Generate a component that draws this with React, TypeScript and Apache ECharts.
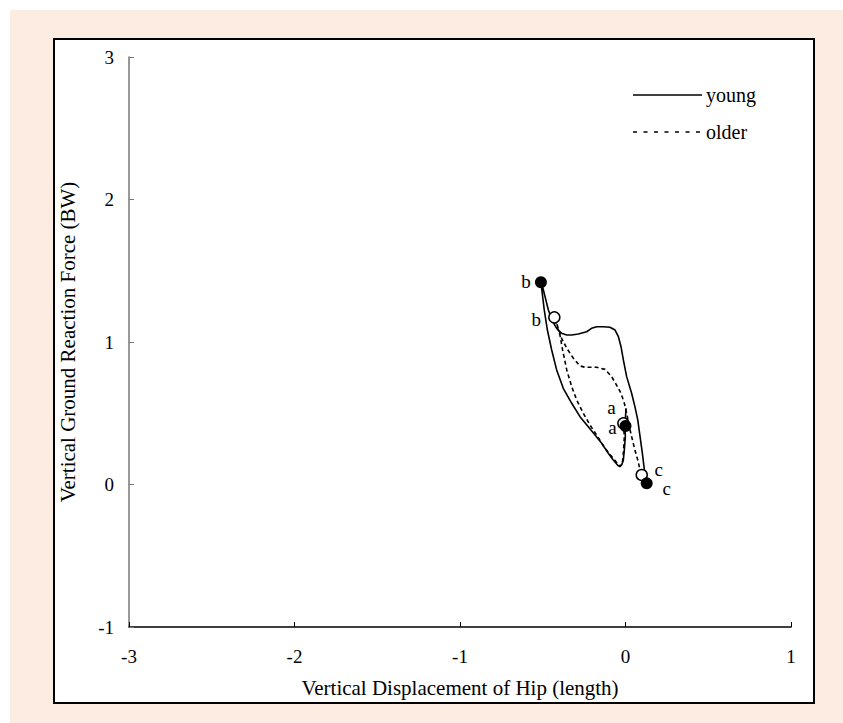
import React, { useEffect, useRef } from "react";
import * as echarts from "echarts";

// Axis ticks
const xTicks = [-3, -2, -1, 0, 1];
const yTicks = [-1, 0, 1, 2, 3];

// Young (solid) trajectory: [hip displacement, GRF]
const youngX = [0.003, -0.003, -0.001, -0.007, -0.013, -0.023, -0.043, -0.074, -0.104, -0.144, -0.184, -0.225, -0.275, -0.325, -0.376, -0.416, -0.446, -0.472, -0.491, -0.503, -0.511, -0.501, -0.486, -0.466, -0.44, -0.416, -0.386, -0.355, -0.325, -0.285, -0.235, -0.205, -0.174, -0.134, -0.094, -0.063, -0.043, -0.027, -0.013, 0.007, 0.037, 0.057, 0.074, 0.088, 0.102, 0.114, 0.128];
const youngY = [0.535, 0.411, 0.336, 0.242, 0.172, 0.137, 0.13, 0.172, 0.219, 0.289, 0.347, 0.406, 0.476, 0.57, 0.675, 0.804, 0.944, 1.084, 1.225, 1.342, 1.419, 1.388, 1.318, 1.225, 1.143, 1.096, 1.061, 1.049, 1.049, 1.056, 1.072, 1.096, 1.107, 1.107, 1.103, 1.084, 1.037, 0.967, 0.874, 0.757, 0.64, 0.546, 0.453, 0.336, 0.219, 0.102, 0.008];

// Older (dotted) trajectory
const olderX = [-0.013, -0.007, -0.013, -0.019, -0.033, -0.074, -0.124, -0.174, -0.215, -0.255, -0.295, -0.325, -0.355, -0.38, -0.396, -0.416, -0.43, -0.422, -0.406, -0.386, -0.355, -0.315, -0.275, -0.245, -0.174, -0.124, -0.084, -0.054, -0.027, -0.007, 0.007, 0.023, 0.037, 0.057, 0.074, 0.088, 0.098];
const olderY = [0.429, 0.336, 0.219, 0.149, 0.125, 0.184, 0.254, 0.347, 0.418, 0.5, 0.593, 0.686, 0.804, 0.944, 1.049, 1.119, 1.173, 1.149, 1.096, 1.026, 0.956, 0.886, 0.832, 0.823, 0.823, 0.808, 0.757, 0.698, 0.64, 0.57, 0.5, 0.406, 0.336, 0.242, 0.172, 0.102, 0.067];

// Event points a, b, c
const eventNames = ["a", "b", "c"];
const youngEventX = [0.0, -0.511, 0.128];
const youngEventY = [0.411, 1.419, 0.008];
const olderEventX = [-0.013, -0.43, 0.098];
const olderEventY = [0.429, 1.173, 0.067];

const seriesNames = ["young", "older"];

const FONT = "Liberation Serif";

// label offsets (styling)
const youngLabelOffsets = [[-13, 2], [-15, -1], [20, 5]];
const olderLabelOffsets = [[-12, -16], [-18, 2], [17, -5]];

export default function App() {
  const ref = useRef<HTMLDivElement>(null);
  useEffect(() => {
    if (!ref.current) return;
    const chart = echarts.init(ref.current, undefined, { renderer: "svg" });
    const youngData = youngX.map((x, i) => [x, youngY[i]]);
    const olderData = olderX.map((x, i) => [x, olderY[i]]);
    const mkEvents = (xs: number[], ys: number[], offs: number[][]) =>
      xs.map((x, i) => ({
        value: [x, ys[i]],
        name: eventNames[i],
        label: {
          show: true,
          position: "inside",
          offset: offs[i],
          formatter: eventNames[i],
          color: "#000",
          textBorderWidth: 0,
          textBorderColor: "transparent",
          fontFamily: FONT,
          fontSize: 19,
        },
      }));
    const tickLabel = {
      show: true,
      fontFamily: FONT,
      fontSize: 19,
      color: "#000",
      formatter: "{t|{value}}",
      rich: { t: { fontFamily: FONT, fontSize: 19, color: "#000" } },
    };
    chart.setOption({
      animation: false,
      backgroundColor: "transparent",
      textStyle: { fontFamily: FONT, color: "#000", fontSize: 19 },
      grid: { left: 129, right: 52, top: 57, bottom: 96, containLabel: false },
      xAxis: {
        type: "value",
        min: xTicks[0],
        max: xTicks[xTicks.length - 1],
        interval: 1,
        name: "Vertical Displacement of Hip (length)",
        nameLocation: "middle",
        nameGap: 50,
        nameTextStyle: { fontFamily: FONT, fontSize: 21, color: "#000" },
        axisLine: { show: true, onZero: false, lineStyle: { color: "#000", width: 1.5 } },
        axisTick: { show: true, inside: true, length: 5, lineStyle: { color: "#000", width: 1 } },
        axisLabel: { ...tickLabel, margin: 20 },
        splitLine: { show: false },
      },
      yAxis: {
        type: "value",
        min: yTicks[0],
        max: yTicks[yTicks.length - 1],
        interval: 1,
        name: "Vertical Ground Reaction Force (BW)",
        nameLocation: "middle",
        nameGap: 51,
        nameTextStyle: { fontFamily: FONT, fontSize: 21, color: "#000" },
        axisLine: { show: true, onZero: false, lineStyle: { color: "#777", width: 1.5 } },
        axisTick: { show: true, inside: true, length: 5, lineStyle: { color: "#777", width: 1 } },
        axisLabel: { ...tickLabel, margin: 15 },
        splitLine: { show: false },
      },
      series: [
        {
          name: seriesNames[0],
          type: "line",
          data: youngData,
          showSymbol: false,
          symbol: "none",
          lineStyle: { color: "#000", width: 1.6, type: "solid" },
          z: 3,
        },
        {
          name: seriesNames[1],
          type: "line",
          data: olderData,
          showSymbol: false,
          symbol: "none",
          lineStyle: { color: "#000", width: 1.6, type: [4, 3] },
          z: 3,
        },
        {
          name: "older events",
          type: "scatter",
          data: mkEvents(olderEventX, olderEventY, olderLabelOffsets),
          symbol: "circle",
          symbolSize: 11,
          itemStyle: { color: "#fff", borderColor: "#000", borderWidth: 1.5, opacity: 1 },
          z: 4,
        },
        {
          name: "young events",
          type: "scatter",
          data: mkEvents(youngEventX, youngEventY, youngLabelOffsets),
          symbol: "circle",
          symbolSize: 12,
          itemStyle: { color: "#000", opacity: 1 },
          z: 5,
        },
      ],
      graphic: [
        {
          type: "line",
          shape: { x1: 633, y1: 95, x2: 702, y2: 95 },
          style: { stroke: "#000", lineWidth: 1.6 },
        },
        {
          type: "text",
          x: 706,
          y: 95,
          style: { text: seriesNames[0], fontFamily: FONT, fontSize: 20, fill: "#000", verticalAlign: "middle" },
        },
        {
          type: "line",
          shape: { x1: 633, y1: 132, x2: 702, y2: 132 },
          style: { stroke: "#000", lineWidth: 1.6, lineDash: [4, 6.5] },
        },
        {
          type: "text",
          x: 706,
          y: 132,
          style: { text: seriesNames[1], fontFamily: FONT, fontSize: 20, fill: "#000", verticalAlign: "middle" },
        },
      ],
    });
    return () => chart.dispose();
  }, []);

  return (
    <div style={{ position: "fixed", left: 0, top: 0, width: 843, height: 723, background: "#fff", overflow: "hidden" }}>
      <div style={{ position: "absolute", left: 10, top: 10, width: 833, height: 713, background: "#FDECE2" }} />
      <div
        style={{
          position: "absolute",
          left: 53,
          top: 38,
          width: 762,
          height: 666,
          boxSizing: "border-box",
          border: "2px solid #000",
          background: "#fff",
        }}
      />
      <div ref={ref} style={{ position: "absolute", left: 0, top: 0, width: 843, height: 723 }} />
    </div>
  );
}
